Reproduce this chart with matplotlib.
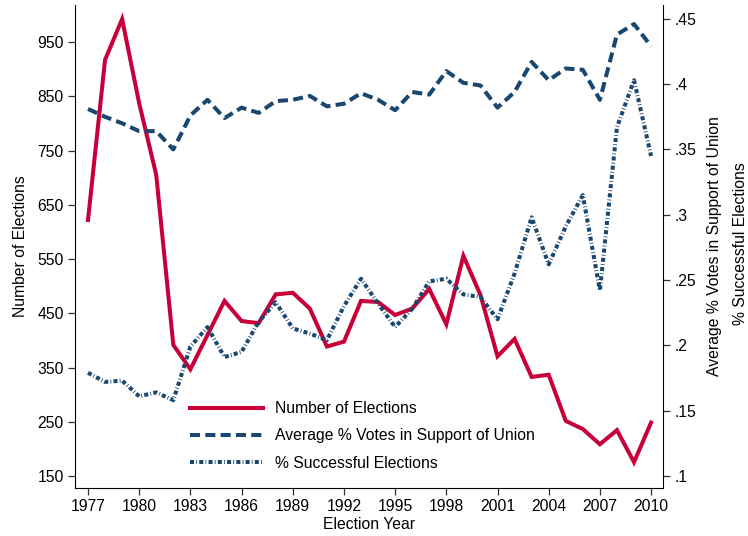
import matplotlib
matplotlib.use("Agg")
import matplotlib.pyplot as plt

plt.rcParams["font.family"] = ["Liberation Sans", "DejaVu Sans"]
plt.rcParams["font.size"] = 11.3

years = list(range(1977, 2011))
n_elections = [622, 917, 992, 837, 705, 392, 347, 410, 473, 436,
               432, 485, 488, 459, 389, 398, 473, 471, 447, 459,
               495, 430, 556, 484, 371, 403, 333, 337, 252, 237,
               209, 235, 176, 249]
avg_votes = [.381, .375, .370, .364, .364, .350, .376, .388, .374, .382,
             .378, .387, .388, .391, .383, .385, .393, .388, .380, .394,
             .392, .410, .401, .399, .382, .394, .417, .403, .412, .411,
             .388, .438, .446, .429]
pct_success = [.179, .172, .173, .161, .164, .158, .199, .214, .191, .195,
               .218, .233, .213, .209, .204, .230, .251, .232, .214, .228,
               .249, .251, .239, .237, .220, .255, .298, .262, .291, .315,
               .242, .367, .403, .345]

x_ticks = list(range(1977, 2011, 3))
left_ticks = list(range(150, 1000, 100))
right_ticks = [.1, .15, .2, .25, .3, .35, .4, .45]
right_labels = [".1", ".15", ".2", ".25", ".3", ".35", ".4", ".45"]

red = "#c8003a"
navy = "#1a476f"

fig = plt.figure(figsize=(7.48, 5.36), dpi=100)
ax = fig.add_axes([0.1003, 0.0896, 0.7861, 0.9011])
ax2 = ax.twinx()

l1, = ax.plot(years, n_elections, color=red, lw=2.9, solid_joinstyle="miter",
              label="Number of Elections")
l2, = ax2.plot(years, avg_votes, color=navy, lw=2.9, linestyle=(0, (2.5, 1.3)),
               dash_capstyle="butt", label="Average % Votes in Support of Union")
l3, = ax2.plot(years, pct_success, color=navy, lw=2.9,
               linestyle=(0, (1, 0.55, 0.2, 0.55)), dash_capstyle="butt",
               label="% Successful Elections")

ax.set_xlim(1976.24, 2010.7)
ax.set_ylim(128.5, 1018)
ax2.set_ylim(0.0908, 0.4606)

ax.set_xticks(x_ticks)
ax.set_yticks(left_ticks)
ax2.set_yticks(right_ticks)
ax2.set_yticklabels(right_labels)

for a in (ax, ax2):
    a.spines["top"].set_visible(False)
    a.tick_params(length=5, width=0.9, color="#333333", pad=3)
ax.spines["right"].set_visible(False)
ax2.spines["left"].set_visible(False)
ax2.spines["bottom"].set_visible(False)

ax.set_xlabel("Election Year", labelpad=2)
ax.set_ylabel("Number of Elections", labelpad=7)
ax2.set_ylabel("Average % Votes in Support of Union", labelpad=8)
fig.text(0.9895, 0.545, "% Successful Elections", rotation=90,
         ha="center", va="center", fontsize=11.3)

ax.legend(handles=[l1, l2, l3], loc="upper left", bbox_to_anchor=(0.1956, 0.18),
          frameon=False, borderpad=0, borderaxespad=0, handlelength=4.65,
          handletextpad=0.76, labelspacing=0.78)

fig.savefig("out.png", dpi=100)
